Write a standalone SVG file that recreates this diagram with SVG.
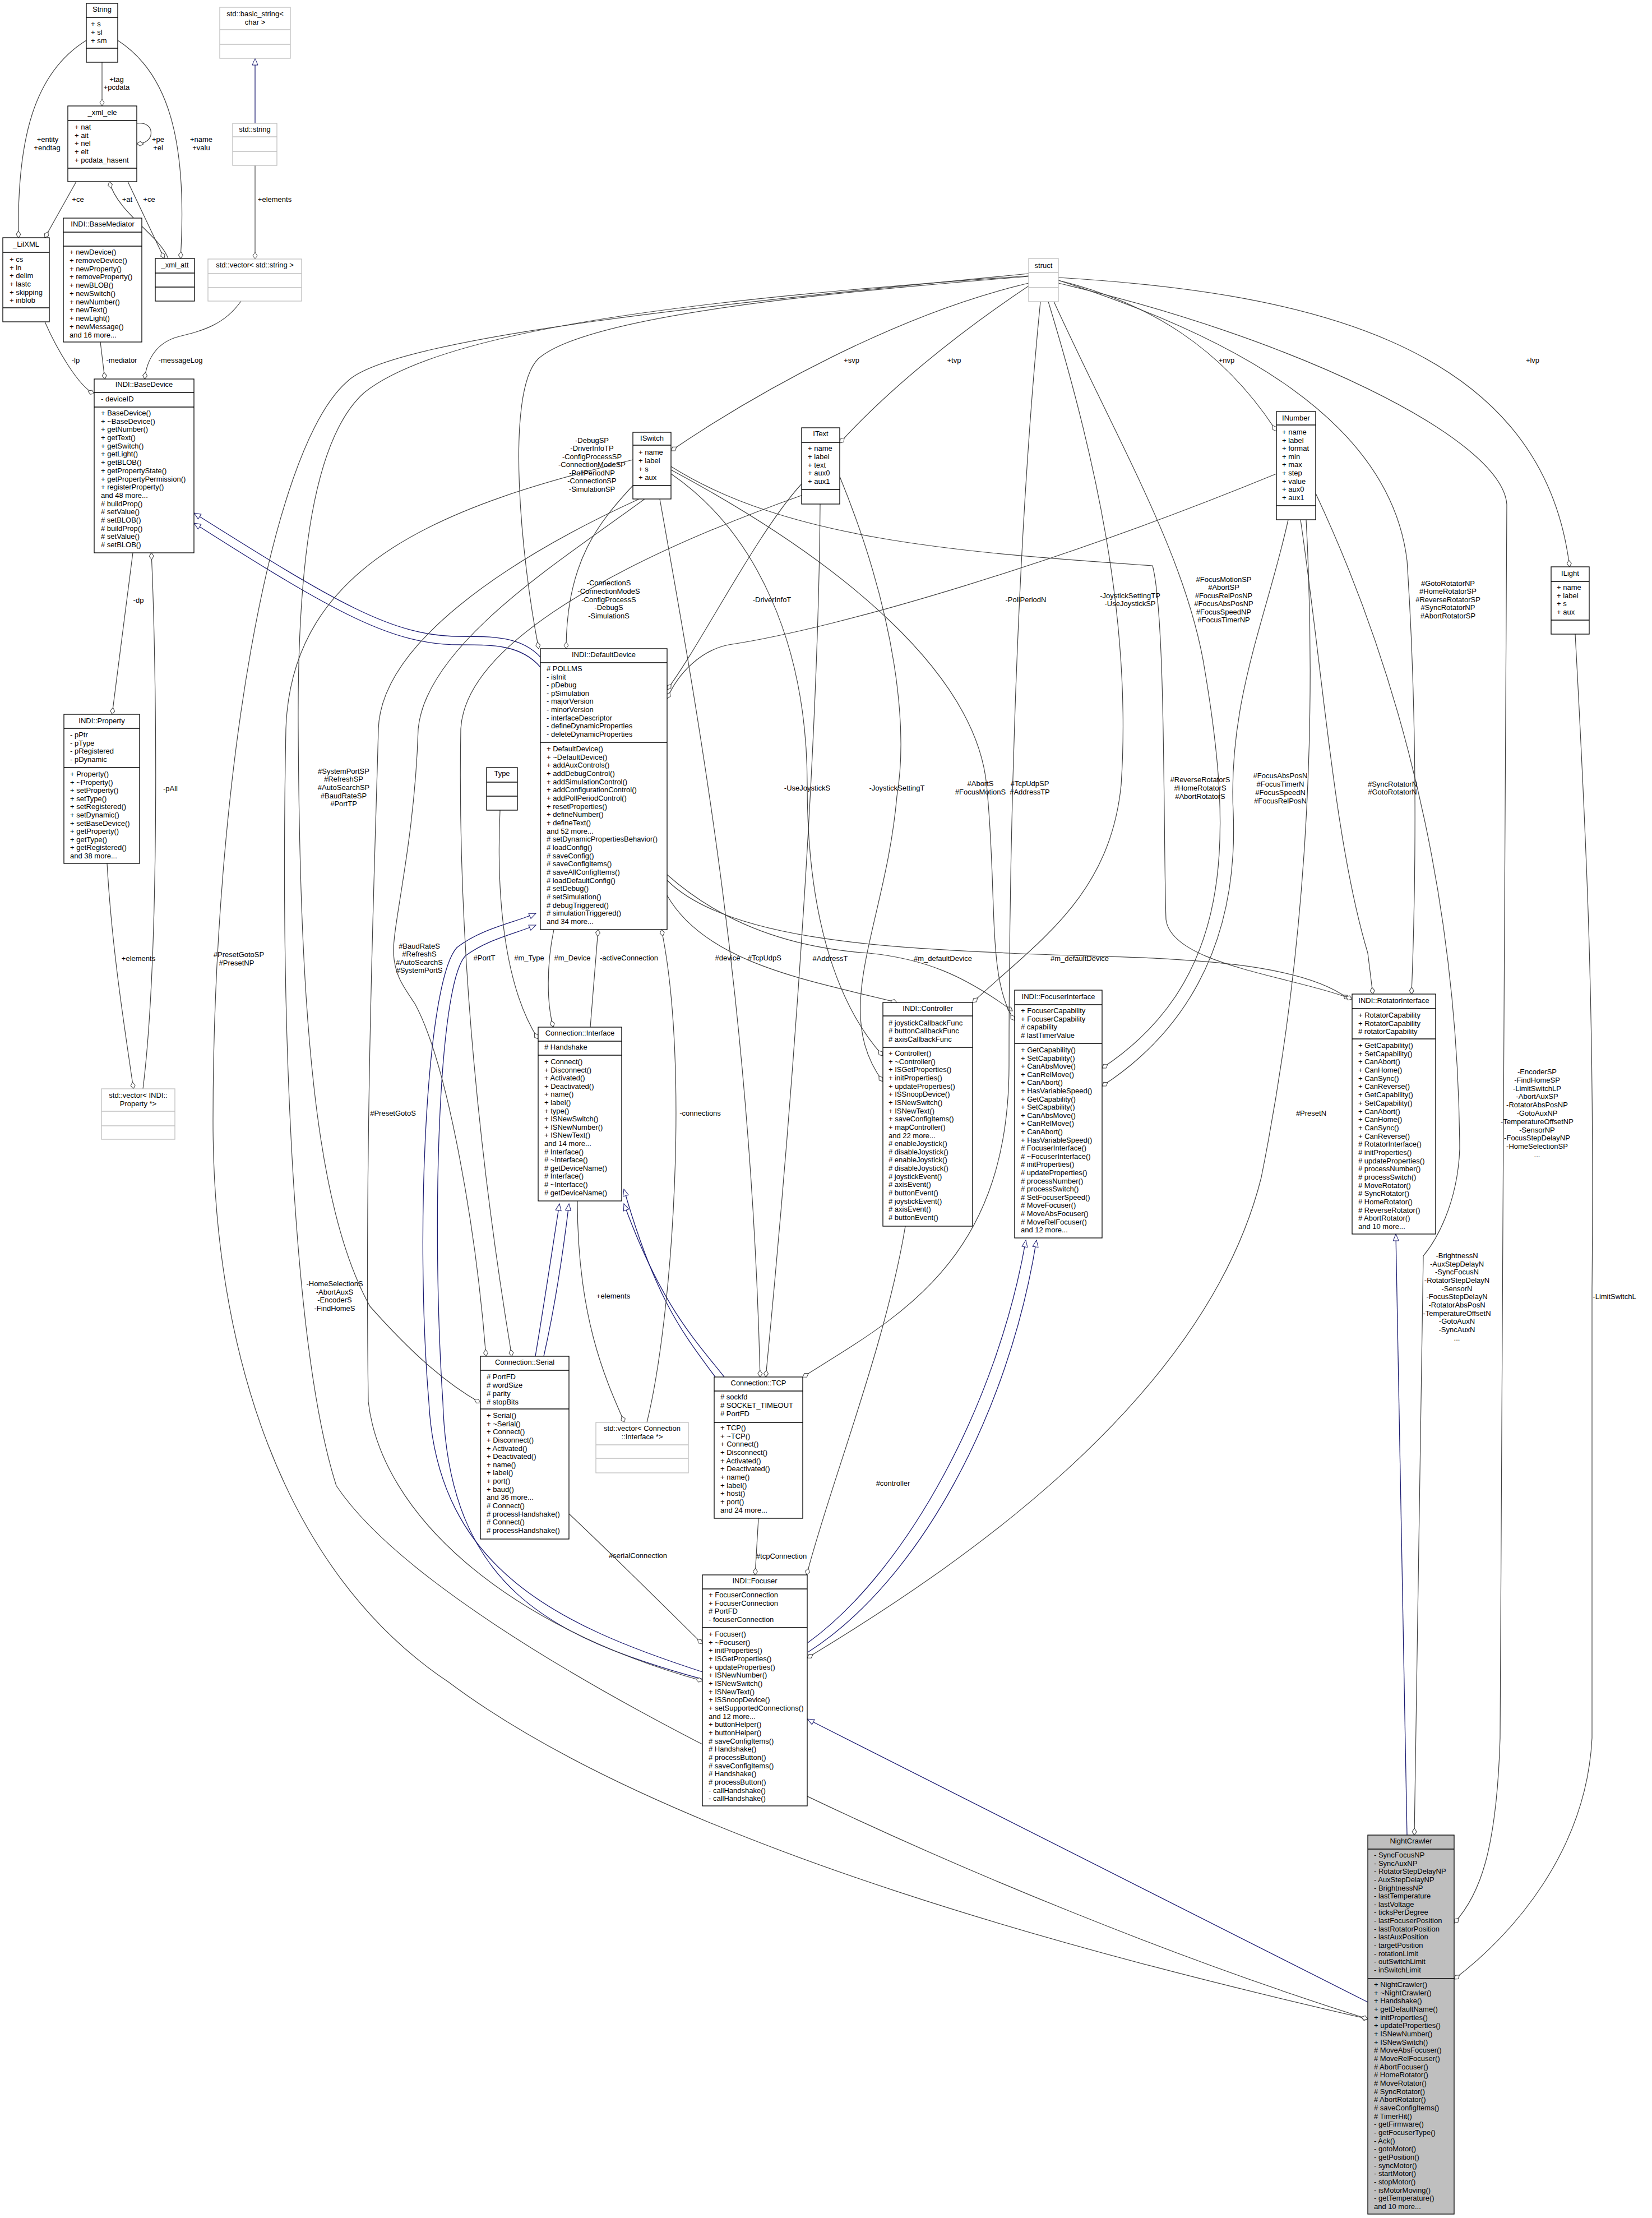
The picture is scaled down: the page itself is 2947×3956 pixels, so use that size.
<svg xmlns="http://www.w3.org/2000/svg" width="2947" height="3956" viewBox="0 0 2947 3956">
<style>
text{font-family:"Liberation Sans",Arial,sans-serif;font-size:13px;fill:#000}
.c{text-anchor:middle}
.b{fill:#fff;stroke:#000;stroke-width:1.3}
.g{fill:#fff;stroke:#bfbfbf;stroke-width:1.3}
.k{fill:#bfbfbf;stroke:#000;stroke-width:1.3}
.s{stroke:#000;stroke-width:1.3}
.sg{stroke:#bfbfbf;stroke-width:1.3}
.e{fill:none;stroke:#404040;stroke-width:1.2;marker-end:url(#d)}
.i{fill:none;stroke:#191970;stroke-width:1.3;marker-end:url(#t)}
</style>
<defs>
<marker id="d" markerWidth="14" markerHeight="10" refX="13" refY="5" orient="auto" markerUnits="userSpaceOnUse"><path d="M1,5 L7,1 L13,5 L7,9 Z" fill="#fff" stroke="#404040"/></marker>
<marker id="t" markerWidth="14" markerHeight="12" refX="13" refY="6" orient="auto" markerUnits="userSpaceOnUse"><path d="M1,1 L13,6 L1,11 Z" fill="#fff" stroke="#191970"/></marker>
</defs>
<rect width="2947" height="3956" fill="#fff"/>
<g id="connectors">
<path class="e" d="M182,111 L182,189"/>
<path class="e" d="M154,72 C60,130 30,250 33,424"/>
<path class="e" d="M210,72 C300,130 335,250 322,461"/>
<path class="e" d="M244,220 C278,215 278,258 244,256"/>
<path class="e" d="M136,324 L80,424"/>
<path class="e" d="M300,461 C285,420 210,380 195,324"/>
<path class="e" d="M228,324 L293,461"/>
<path class="i" d="M455,220 L455,104"/>
<path class="e" d="M455,295 L455,462"/>
<path class="e" d="M80,574 C100,620 140,690 168,702"/>
<path class="e" d="M179,610 L187,676"/>
<path class="e" d="M430,537 C400,580 360,590 320,600 C280,610 262,640 258,676"/>
<path class="e" d="M237,986 L200,1274"/>
<path class="e" d="M255,1942 C285,1700 280,1200 270,986"/>
<path class="e" d="M191,1540 C200,1700 225,1850 238,1942"/>
<path class="i" d="M964,1172 C930,1135 880,1135 820,1135 C700,1135 600,1075 346,915"/>
<path class="i" d="M964,1190 C930,1150 880,1150 820,1150 C700,1150 600,1095 346,933"/>
<path class="i" d="M1253,2982 C1000,2900 780,2800 765,2500 C740,2200 760,1750 815,1690 C860,1655 920,1645 956,1629"/>
<path class="i" d="M1253,2995 C980,2920 800,2830 790,2500 C770,2200 780,1760 830,1705 C870,1675 920,1665 956,1650"/>
<path class="i" d="M955,2419 C970,2330 985,2230 998,2147"/>
<path class="i" d="M970,2419 C990,2330 1005,2230 1015,2147"/>
<path class="i" d="M1276,2456 C1220,2380 1170,2320 1113,2121"/>
<path class="i" d="M1292,2456 C1240,2390 1180,2330 1113,2147"/>
<path class="i" d="M1441,2930 C1620,2800 1780,2500 1830,2212"/>
<path class="i" d="M1441,2947 C1640,2820 1800,2520 1849,2212"/>
<path class="i" d="M2510,3273 L2490,2201"/>
<path class="i" d="M2440,3571 L1440,3066"/>
<path class="e" d="M1190,1597 C1260,1720 1450,1750 1600,1788"/>
<path class="e" d="M1190,1560 C1280,1640 1400,1690 1550,1700 C1650,1710 1720,1740 1806,1803"/>
<path class="e" d="M1190,1570 C1300,1680 1600,1690 1800,1700 C2000,1710 2300,1700 2406,1782"/>
<path class="e" d="M988,1658 C975,1720 975,1790 987,1832"/>
<path class="e" d="M1053,1832 L1067,1658"/>
<path class="e" d="M892,1445 C885,1600 900,1760 960,1853"/>
<path class="e" d="M1154,2537 C1200,2350 1230,1900 1180,1658"/>
<path class="e" d="M1030,2142 C1030,2350 1080,2460 1114,2537"/>
<path class="e" d="M1015,2700 C1100,2780 1200,2880 1253,2932"/>
<path class="e" d="M1353,2708 L1347,2809"/>
<path class="e" d="M1615,2187 C1580,2400 1480,2650 1439,2809"/>
<path class="e" d="M1177,890 C1250,1300 1340,1800 1356,2456"/>
<path class="e" d="M1463,899 C1460,1300 1420,1900 1366,2456"/>
<path class="e" d="M1856,538 C1820,900 1800,1400 1800,1900 C1800,2250 1600,2350 1432,2456"/>
<path class="e" d="M2277,845 C1900,1000 1500,1120 1300,1150 C1250,1160 1210,1200 1190,1246"/>
<path class="e" d="M1430,863 C1350,950 1250,1150 1190,1230"/>
<path class="e" d="M1129,866 C1070,930 1010,1000 1010,1157"/>
<path class="e" d="M1835,493 C1500,520 1050,560 960,640 C900,700 930,1000 961,1157"/>
<path class="e" d="M1197,845 C1350,950 1440,1150 1440,1400 C1440,1650 1500,1800 1575,1883"/>
<path class="e" d="M1498,850 C1600,1100 1620,1300 1600,1420 C1580,1650 1480,1800 1575,1929"/>
<path class="e" d="M1870,538 C1950,800 2020,1100 2000,1400 C1980,1600 1850,1680 1735,1788"/>
<path class="e" d="M1197,838 C1500,1000 1740,1200 1760,1400 C1780,1600 1760,1750 1810,1820"/>
<path class="e" d="M1880,538 C2000,800 2120,1000 2150,1200 C2200,1500 2200,1750 1966,1905"/>
<path class="e" d="M2298,927 C2260,1100 2190,1250 2200,1450 C2210,1700 2100,1850 1966,1937"/>
<path class="e" d="M1197,832 C1400,960 1700,985 2056,1009 C2080,1100 2075,1500 2080,1640 C2090,1720 2300,1740 2412,1782"/>
<path class="e" d="M2320,927 C2360,1200 2380,1500 2440,1700 L2449,1773"/>
<path class="e" d="M1888,500 C2200,600 2480,750 2510,1000 C2530,1300 2525,1600 2518,1773"/>
<path class="e" d="M1888,505 C2300,600 2680,780 2688,900 L2676,3100 C2670,3300 2640,3380 2594,3430"/>
<path class="e" d="M2810,1131 C2830,1500 2845,1800 2840,2300 L2840,3100 C2830,3300 2700,3450 2594,3530"/>
<path class="e" d="M1888,495 C2300,520 2750,600 2800,1011"/>
<path class="e" d="M1888,500 C2050,540 2180,620 2277,769"/>
<path class="e" d="M1835,510 C1700,600 1580,700 1498,790"/>
<path class="e" d="M1835,505 C1600,560 1350,700 1197,804"/>
<path class="e" d="M2347,880 C2450,1100 2600,1500 2604,2049 C2600,2150 2560,2215 2539,2240 L2523,3273"/>
<path class="e" d="M2330,927 C2350,1300 2330,1700 2250,2100 C2150,2500 1700,2800 1440,2957"/>
<path class="e" d="M1835,488 C1300,540 700,600 620,680 C480,800 380,1400 380,2000 C380,2400 500,2800 800,3000 C1200,3300 2000,3500 2440,3601"/>
<path class="e" d="M1129,820 C800,900 520,1000 510,1300 C500,1800 520,2400 600,2650 C800,2950 1800,3400 2440,3601"/>
<path class="e" d="M1835,492 C1300,530 800,580 650,700 C560,780 530,1000 532,1300 C535,1800 560,2150 660,2330 C740,2420 800,2470 857,2502"/>
<path class="e" d="M1150,890 C1000,1000 760,1150 746,1300 C740,1500 700,1650 702,1700 C704,1740 720,1760 740,1790 C800,1900 850,2200 867,2419"/>
<path class="e" d="M1140,890 C900,1000 680,1150 675,1300 C670,1500 650,2000 657,2500 C680,2700 900,2900 1253,2998"/>
<path class="e" d="M1440,880 C1100,1000 830,1150 822,1300 C815,1700 860,2100 913,2419"/>
</g>
<g id="labels">
<text class="c" x="208" y="146">+tag</text><text class="c" x="208" y="160">+pcdata</text>
<text class="c" x="85" y="253">+entity</text><text class="c" x="84" y="268">+endtag</text>
<text class="c" x="282" y="253">+pe</text><text class="c" x="282" y="268">+el</text>
<text class="c" x="359" y="253">+name</text><text class="c" x="359" y="268">+valu</text>
<text class="c" x="139" y="360">+ce</text><text class="c" x="227" y="360">+at</text><text class="c" x="266" y="360">+ce</text><text class="c" x="490" y="360">+elements</text>
<text class="c" x="135" y="647">-lp</text><text class="c" x="217" y="647">-mediator</text><text class="c" x="322" y="647">-messageLog</text>
<text class="c" x="247" y="1075">-dp</text><text class="c" x="304" y="1411">-pAll</text><text class="c" x="247" y="1714">+elements</text>
<text class="c" x="426" y="1707">#PresetGotoSP</text><text class="c" x="422" y="1722">#PresetNP</text>
<text class="c" x="613" y="1380">#SystemPortSP</text><text class="c" x="613" y="1394">#RefreshSP</text><text class="c" x="613" y="1409">#AutoSearchSP</text><text class="c" x="613" y="1424">#BaudRateSP</text><text class="c" x="613" y="1438">#PortTP</text>
<text class="c" x="748" y="1692">#BaudRateS</text><text class="c" x="748" y="1706">#RefreshS</text><text class="c" x="748" y="1721">#AutoSearchS</text><text class="c" x="748" y="1735">#SystemPortS</text>
<text class="c" x="701" y="1990">#PresetGotoS</text>
<text class="c" x="597" y="2294">-HomeSelectionS</text><text class="c" x="597" y="2309">-AbortAuxS</text><text class="c" x="597" y="2323">-EncoderS</text><text class="c" x="597" y="2338">-FindHomeS</text>
<text class="c" x="864" y="1713">#PortT</text><text class="c" x="944" y="1713">#m_Type</text><text class="c" x="1021" y="1713">#m_Device</text><text class="c" x="1122" y="1713">-activeConnection</text>
<text class="c" x="1298" y="1713">#device</text><text class="c" x="1364" y="1713">#TcpUdpS</text><text class="c" x="1481" y="1714">#AddressT</text>
<text class="c" x="1682" y="1714">#m_defaultDevice</text><text class="c" x="1926" y="1714">#m_defaultDevice</text>
<text class="c" x="1249" y="1990">-connections</text><text class="c" x="1094" y="2316">+elements</text>
<text class="c" x="1138" y="2779">#serialConnection</text><text class="c" x="1394" y="2780">#tcpConnection</text><text class="c" x="1593" y="2650">#controller</text><text class="c" x="2339" y="1990">#PresetN</text>
<text class="c" x="1056" y="790">-DebugSP</text><text class="c" x="1056" y="804">-DriverInfoTP</text><text class="c" x="1056" y="819">-ConfigProcessSP</text><text class="c" x="1056" y="833">-ConnectionModeSP</text><text class="c" x="1056" y="848">-PollPeriodNP</text><text class="c" x="1056" y="862">-ConnectionSP</text><text class="c" x="1056" y="877">-SimulationSP</text>
<text class="c" x="1086" y="1044">-ConnectionS</text><text class="c" x="1086" y="1059">-ConnectionModeS</text><text class="c" x="1086" y="1074">-ConfigProcessS</text><text class="c" x="1086" y="1088">-DebugS</text><text class="c" x="1086" y="1103">-SimulationS</text>
<text class="c" x="1377" y="1074">-DriverInfoT</text><text class="c" x="1830" y="1074">-PollPeriodN</text>
<text class="c" x="1440" y="1410">-UseJoystickS</text><text class="c" x="1600" y="1410">-JoystickSettingT</text>
<text class="c" x="1749" y="1402">#AbortS</text><text class="c" x="1749" y="1417">#FocusMotionS</text>
<text class="c" x="1837" y="1402">#TcpUdpSP</text><text class="c" x="1837" y="1417">#AddressTP</text>
<text class="c" x="2016" y="1067">-JoystickSettingTP</text><text class="c" x="2016" y="1081">-UseJoystickSP</text>
<text class="c" x="2183" y="1038">#FocusMotionSP</text><text class="c" x="2183" y="1052">#AbortSP</text><text class="c" x="2183" y="1067">#FocusRelPosNP</text><text class="c" x="2183" y="1081">#FocusAbsPosNP</text><text class="c" x="2183" y="1096">#FocusSpeedNP</text><text class="c" x="2183" y="1110">#FocusTimerNP</text>
<text class="c" x="2583" y="1045">#GotoRotatorNP</text><text class="c" x="2583" y="1059">#HomeRotatorSP</text><text class="c" x="2583" y="1074">#ReverseRotatorSP</text><text class="c" x="2583" y="1088">#SyncRotatorNP</text><text class="c" x="2583" y="1103">#AbortRotatorSP</text>
<text class="c" x="1519" y="647">+svp</text><text class="c" x="1702" y="647">+tvp</text><text class="c" x="2188" y="647">+nvp</text><text class="c" x="2734" y="647">+lvp</text>
<text class="c" x="2141" y="1395">#ReverseRotatorS</text><text class="c" x="2141" y="1410">#HomeRotatorS</text><text class="c" x="2141" y="1425">#AbortRotatorS</text>
<text class="c" x="2284" y="1388">#FocusAbsPosN</text><text class="c" x="2284" y="1403">#FocusTimerN</text><text class="c" x="2284" y="1418">#FocusSpeedN</text><text class="c" x="2284" y="1433">#FocusRelPosN</text>
<text class="c" x="2484" y="1403">#SyncRotatorN</text><text class="c" x="2484" y="1417">#GotoRotatorN</text>
<text class="c" x="2742" y="1916">-EncoderSP</text><text class="c" x="2742" y="1931">-FindHomeSP</text><text class="c" x="2742" y="1946">-LimitSwitchLP</text><text class="c" x="2742" y="1960">-AbortAuxSP</text><text class="c" x="2742" y="1975">-RotatorAbsPosNP</text><text class="c" x="2742" y="1990">-GotoAuxNP</text><text class="c" x="2742" y="2005">-TemperatureOffsetNP</text><text class="c" x="2742" y="2020">-SensorNP</text><text class="c" x="2742" y="2034">-FocusStepDelayNP</text><text class="c" x="2742" y="2049">-HomeSelectionSP</text><text class="c" x="2742" y="2064">...</text>
<text class="c" x="2599" y="2244">-BrightnessN</text><text class="c" x="2599" y="2259">-AuxStepDelayN</text><text class="c" x="2599" y="2273">-SyncFocusN</text><text class="c" x="2599" y="2288">-RotatorStepDelayN</text><text class="c" x="2599" y="2303">-SensorN</text><text class="c" x="2599" y="2317">-FocusStepDelayN</text><text class="c" x="2599" y="2332">-RotatorAbsPosN</text><text class="c" x="2599" y="2347">-TemperatureOffsetN</text><text class="c" x="2599" y="2361">-GotoAuxN</text><text class="c" x="2599" y="2376">-SyncAuxN</text><text class="c" x="2599" y="2391">...</text>
<text class="c" x="2880" y="2317">-LimitSwitchL</text>
</g>
<g id="String"><rect class="b" x="154" y="6" width="56" height="105"/><text class="c" x="182" y="21">String</text><line class="s" x1="154" y1="31" x2="210" y2="31"/><text x="162" y="47">+ s</text><text x="162" y="62">+ sl</text><text x="162" y="77">+ sm</text><line class="s" x1="154" y1="86" x2="210" y2="86"/></g>
<g id="xml_ele"><rect class="b" x="121" y="189" width="123" height="135"/><text class="c" x="182.5" y="205">_xml_ele</text><line class="s" x1="121" y1="215" x2="244" y2="215"/><text x="133" y="231">+ nat</text><text x="133" y="246">+ ait</text><text x="133" y="260">+ nel</text><text x="133" y="275">+ eit</text><text x="133" y="290">+ pcdata_hasent</text><line class="s" x1="121" y1="300" x2="244" y2="300"/></g>
<g id="LilXML"><rect class="b" x="5" y="424" width="83" height="150"/><text class="c" x="46.5" y="440">_LilXML</text><line class="s" x1="5" y1="450" x2="88" y2="450"/><text x="17" y="467">+ cs</text><text x="17" y="482">+ ln</text><text x="17" y="496">+ delim</text><text x="17" y="511">+ lastc</text><text x="17" y="526">+ skipping</text><text x="17" y="540">+ inblob</text><line class="s" x1="5" y1="549" x2="88" y2="549"/></g>
<g id="BaseMediator"><rect class="b" x="113" y="389" width="140" height="221"/><text class="c" x="183" y="404">INDI::BaseMediator</text><line class="s" x1="113" y1="414" x2="253" y2="414"/><line class="s" x1="113" y1="439" x2="253" y2="439"/><text x="124" y="454">+ newDevice()</text><text x="124" y="469">+ removeDevice()</text><text x="124" y="484">+ newProperty()</text><text x="124" y="498">+ removeProperty()</text><text x="124" y="513">+ newBLOB()</text><text x="124" y="528">+ newSwitch()</text><text x="124" y="543">+ newNumber()</text><text x="124" y="557">+ newText()</text><text x="124" y="572">+ newLight()</text><text x="124" y="587">+ newMessage()</text><text x="124" y="602">and 16 more...</text></g>
<g id="xml_att"><rect class="b" x="277" y="461" width="70" height="76"/><text class="c" x="312" y="477">_xml_att</text><line class="s" x1="277" y1="487" x2="347" y2="487"/><line class="s" x1="277" y1="512" x2="347" y2="512"/></g>
<g id="basic_string"><rect class="g" x="392" y="13" width="126" height="91"/><text class="c" x="455" y="29">std::basic_string&lt;</text><text class="c" x="455" y="44">char &gt;</text><line class="sg" x1="392" y1="53" x2="518" y2="53"/><line class="sg" x1="392" y1="79" x2="518" y2="79"/></g>
<g id="std_string"><rect class="g" x="415" y="220" width="79" height="75"/><text class="c" x="454.5" y="235">std::string</text><line class="sg" x1="415" y1="244" x2="494" y2="244"/><line class="sg" x1="415" y1="270" x2="494" y2="270"/></g>
<g id="vector_string"><rect class="g" x="371" y="462" width="167" height="75"/><text class="c" x="454.5" y="477">std::vector&lt; std::string &gt;</text><line class="sg" x1="371" y1="488" x2="538" y2="488"/><line class="sg" x1="371" y1="513" x2="538" y2="513"/></g>
<g id="BaseDevice"><rect class="b" x="168" y="676" width="178" height="310"/><text class="c" x="257" y="690">INDI::BaseDevice</text><line class="s" x1="168" y1="700" x2="346" y2="700"/><text x="180" y="716">- deviceID</text><line class="s" x1="168" y1="726" x2="346" y2="726"/>
<text x="180" y="741">+ BaseDevice()</text><text x="180" y="756">+ ~BaseDevice()</text><text x="180" y="770">+ getNumber()</text><text x="180" y="785">+ getText()</text><text x="180" y="800">+ getSwitch()</text><text x="180" y="814">+ getLight()</text><text x="180" y="829">+ getBLOB()</text><text x="180" y="844">+ getPropertyState()</text><text x="180" y="859">+ getPropertyPermission()</text><text x="180" y="873">+ registerProperty()</text><text x="180" y="888">and 48 more...</text><text x="180" y="903"># buildProp()</text><text x="180" y="917"># setValue()</text><text x="180" y="932"># setBLOB()</text><text x="180" y="947"># buildProp()</text><text x="180" y="961"># setValue()</text><text x="180" y="976"># setBLOB()</text></g>
<g id="Property"><rect class="b" x="114" y="1274" width="135" height="266"/><text class="c" x="181.5" y="1290">INDI::Property</text><line class="s" x1="114" y1="1299" x2="249" y2="1299"/><text x="125" y="1315">- pPtr</text><text x="125" y="1330">- pType</text><text x="125" y="1344">- pRegistered</text><text x="125" y="1359">- pDynamic</text><line class="s" x1="114" y1="1369" x2="249" y2="1369"/>
<text x="125" y="1385">+ Property()</text><text x="125" y="1400">+ ~Property()</text><text x="125" y="1414">+ setProperty()</text><text x="125" y="1429">+ setType()</text><text x="125" y="1443">+ setRegistered()</text><text x="125" y="1458">+ setDynamic()</text><text x="125" y="1473">+ setBaseDevice()</text><text x="125" y="1487">+ getProperty()</text><text x="125" y="1502">+ getType()</text><text x="125" y="1516">+ getRegistered()</text><text x="125" y="1531">and 38 more...</text></g>
<g id="vector_Property"><rect class="g" x="181" y="1942" width="131" height="90"/><text class="c" x="246.5" y="1958">std::vector&lt; INDI::</text><text class="c" x="246.5" y="1973">Property *&gt;</text><line class="sg" x1="181" y1="1982" x2="312" y2="1982"/><line class="sg" x1="181" y1="2008" x2="312" y2="2008"/></g>
<g id="ISwitch"><rect class="b" x="1129" y="771" width="68" height="119"/><text class="c" x="1163" y="786">ISwitch</text><line class="s" x1="1129" y1="794" x2="1197" y2="794"/><text x="1139" y="811">+ name</text><text x="1139" y="826">+ label</text><text x="1139" y="841">+ s</text><text x="1139" y="856">+ aux</text><line class="s" x1="1129" y1="866" x2="1197" y2="866"/></g>
<g id="IText"><rect class="b" x="1430" y="763" width="68" height="136"/><text class="c" x="1464" y="778">IText</text><line class="s" x1="1430" y1="789" x2="1498" y2="789"/><text x="1441" y="804">+ name</text><text x="1441" y="819">+ label</text><text x="1441" y="834">+ text</text><text x="1441" y="848">+ aux0</text><text x="1441" y="863">+ aux1</text><line class="s" x1="1430" y1="873" x2="1498" y2="873"/></g>
<g id="struct"><rect class="g" x="1835" y="461" width="53" height="77"/><text class="c" x="1861.5" y="478">struct</text><line class="sg" x1="1835" y1="486" x2="1888" y2="486"/><line class="sg" x1="1835" y1="513" x2="1888" y2="513"/></g>
<g id="INumber"><rect class="b" x="2277" y="734" width="70" height="193"/><text class="c" x="2312" y="750">INumber</text><line class="s" x1="2277" y1="758" x2="2347" y2="758"/><text x="2287" y="775">+ name</text><text x="2287" y="790">+ label</text><text x="2287" y="804">+ format</text><text x="2287" y="819">+ min</text><text x="2287" y="833">+ max</text><text x="2287" y="848">+ step</text><text x="2287" y="863">+ value</text><text x="2287" y="877">+ aux0</text><text x="2287" y="892">+ aux1</text><line class="s" x1="2277" y1="902" x2="2347" y2="902"/></g>
<g id="ILight"><rect class="b" x="2767" y="1011" width="68" height="120"/><text class="c" x="2801" y="1027">ILight</text><line class="s" x1="2767" y1="1037" x2="2835" y2="1037"/><text x="2777" y="1052">+ name</text><text x="2777" y="1067">+ label</text><text x="2777" y="1081">+ s</text><text x="2777" y="1096">+ aux</text><line class="s" x1="2767" y1="1106" x2="2835" y2="1106"/></g>
<g id="DefaultDevice"><rect class="b" x="964" y="1157" width="226" height="501"/><text class="c" x="1077" y="1172">INDI::DefaultDevice</text><line class="s" x1="964" y1="1182" x2="1190" y2="1182"/>
<text x="975" y="1197"># POLLMS</text><text x="975" y="1212">- isInit</text><text x="975" y="1226">- pDebug</text><text x="975" y="1241">- pSimulation</text><text x="975" y="1255">- majorVersion</text><text x="975" y="1270">- minorVersion</text><text x="975" y="1285">- interfaceDescriptor</text><text x="975" y="1299">- defineDynamicProperties</text><text x="975" y="1314">- deleteDynamicProperties</text><line class="s" x1="964" y1="1324" x2="1190" y2="1324"/>
<text x="975" y="1340">+ DefaultDevice()</text><text x="975" y="1355">+ ~DefaultDevice()</text><text x="975" y="1369">+ addAuxControls()</text><text x="975" y="1384">+ addDebugControl()</text><text x="975" y="1399">+ addSimulationControl()</text><text x="975" y="1413">+ addConfigurationControl()</text><text x="975" y="1428">+ addPollPeriodControl()</text><text x="975" y="1443">+ resetProperties()</text><text x="975" y="1457">+ defineNumber()</text><text x="975" y="1472">+ defineText()</text><text x="975" y="1487">and 52 more...</text><text x="975" y="1501"># setDynamicPropertiesBehavior()</text><text x="975" y="1516"># loadConfig()</text><text x="975" y="1531"># saveConfig()</text><text x="975" y="1545"># saveConfigItems()</text><text x="975" y="1560"># saveAllConfigItems()</text><text x="975" y="1575"># loadDefaultConfig()</text><text x="975" y="1589"># setDebug()</text><text x="975" y="1604"># setSimulation()</text><text x="975" y="1619"># debugTriggered()</text><text x="975" y="1633"># simulationTriggered()</text><text x="975" y="1648">and 34 more...</text></g>
<g id="Type"><rect class="b" x="868" y="1369" width="55" height="76"/><text class="c" x="895.5" y="1384">Type</text><line class="s" x1="868" y1="1395" x2="923" y2="1395"/><line class="s" x1="868" y1="1420" x2="923" y2="1420"/></g>
<g id="ConnectionInterface"><rect class="b" x="960" y="1832" width="149" height="310"/><text class="c" x="1034.5" y="1847">Connection::Interface</text><line class="s" x1="960" y1="1857" x2="1109" y2="1857"/><text x="971" y="1872"># Handshake</text><line class="s" x1="960" y1="1882" x2="1109" y2="1882"/>
<text x="971" y="1898">+ Connect()</text><text x="971" y="1913">+ Disconnect()</text><text x="971" y="1927">+ Activated()</text><text x="971" y="1942">+ Deactivated()</text><text x="971" y="1956">+ name()</text><text x="971" y="1971">+ label()</text><text x="971" y="1986">+ type()</text><text x="971" y="2000">+ ISNewSwitch()</text><text x="971" y="2015">+ ISNewNumber()</text><text x="971" y="2029">+ ISNewText()</text><text x="971" y="2044">and 14 more...</text><text x="971" y="2059"># Interface()</text><text x="971" y="2073"># ~Interface()</text><text x="971" y="2088"># getDeviceName()</text><text x="971" y="2102"># Interface()</text><text x="971" y="2117"># ~Interface()</text><text x="971" y="2132"># getDeviceName()</text></g>
<g id="Serial"><rect class="b" x="857" y="2419" width="158" height="326"/><text class="c" x="936" y="2434">Connection::Serial</text><line class="s" x1="857" y1="2444" x2="1015" y2="2444"/><text x="868" y="2460"># PortFD</text><text x="868" y="2475"># wordSize</text><text x="868" y="2490"># parity</text><text x="868" y="2505"># stopBits</text><line class="s" x1="857" y1="2513" x2="1015" y2="2513"/>
<text x="868" y="2529">+ Serial()</text><text x="868" y="2544">+ ~Serial()</text><text x="868" y="2558">+ Connect()</text><text x="868" y="2573">+ Disconnect()</text><text x="868" y="2588">+ Activated()</text><text x="868" y="2602">+ Deactivated()</text><text x="868" y="2617">+ name()</text><text x="868" y="2631">+ label()</text><text x="868" y="2646">+ port()</text><text x="868" y="2661">+ baud()</text><text x="868" y="2675">and 36 more...</text><text x="868" y="2690"># Connect()</text><text x="868" y="2705"># processHandshake()</text><text x="868" y="2719"># Connect()</text><text x="868" y="2734"># processHandshake()</text></g>
<g id="vector_Interface"><rect class="g" x="1063" y="2537" width="165" height="90"/><text class="c" x="1145.5" y="2552">std::vector&lt; Connection</text><text class="c" x="1145.5" y="2567">::Interface *&gt;</text><line class="sg" x1="1063" y1="2577" x2="1228" y2="2577"/><line class="sg" x1="1063" y1="2601" x2="1228" y2="2601"/></g>
<g id="TCP"><rect class="b" x="1274" y="2456" width="158" height="252"/><text class="c" x="1353" y="2471">Connection::TCP</text><line class="s" x1="1274" y1="2481" x2="1432" y2="2481"/><text x="1285" y="2496"># sockfd</text><text x="1285" y="2511"># SOCKET_TIMEOUT</text><text x="1285" y="2526"># PortFD</text><line class="s" x1="1274" y1="2537" x2="1432" y2="2537"/>
<text x="1285" y="2551">+ TCP()</text><text x="1285" y="2566">+ ~TCP()</text><text x="1285" y="2580">+ Connect()</text><text x="1285" y="2595">+ Disconnect()</text><text x="1285" y="2610">+ Activated()</text><text x="1285" y="2624">+ Deactivated()</text><text x="1285" y="2639">+ name()</text><text x="1285" y="2654">+ label()</text><text x="1285" y="2668">+ host()</text><text x="1285" y="2683">+ port()</text><text x="1285" y="2698">and 24 more...</text></g>
<g id="Controller"><rect class="b" x="1575" y="1788" width="160" height="399"/><text class="c" x="1655" y="1803">INDI::Controller</text><line class="s" x1="1575" y1="1812" x2="1735" y2="1812"/><text x="1585" y="1829"># joystickCallbackFunc</text><text x="1585" y="1843"># buttonCallbackFunc</text><text x="1585" y="1858"># axisCallbackFunc</text><line class="s" x1="1575" y1="1868" x2="1735" y2="1868"/>
<text x="1585" y="1883">+ Controller()</text><text x="1585" y="1898">+ ~Controller()</text><text x="1585" y="1912">+ ISGetProperties()</text><text x="1585" y="1927">+ initProperties()</text><text x="1585" y="1942">+ updateProperties()</text><text x="1585" y="1956">+ ISSnoopDevice()</text><text x="1585" y="1971">+ ISNewSwitch()</text><text x="1585" y="1986">+ ISNewText()</text><text x="1585" y="2000">+ saveConfigItems()</text><text x="1585" y="2015">+ mapController()</text><text x="1585" y="2030">and 22 more...</text><text x="1585" y="2044"># enableJoystick()</text><text x="1585" y="2059"># disableJoystick()</text><text x="1585" y="2073"># enableJoystick()</text><text x="1585" y="2088"># disableJoystick()</text><text x="1585" y="2103"># joystickEvent()</text><text x="1585" y="2117"># axisEvent()</text><text x="1585" y="2132"># buttonEvent()</text><text x="1585" y="2147"># joystickEvent()</text><text x="1585" y="2161"># axisEvent()</text><text x="1585" y="2176"># buttonEvent()</text></g>
<g id="FocuserInterface"><rect class="b" x="1810" y="1766" width="156" height="442"/><text class="c" x="1888" y="1782">INDI::FocuserInterface</text><line class="s" x1="1810" y1="1792" x2="1966" y2="1792"/><text x="1821" y="1807">+ FocuserCapability</text><text x="1821" y="1822">+ FocuserCapability</text><text x="1821" y="1836"># capability</text><text x="1821" y="1851"># lastTimerValue</text><line class="s" x1="1810" y1="1861" x2="1966" y2="1861"/>
<text x="1821" y="1877">+ GetCapability()</text><text x="1821" y="1892">+ SetCapability()</text><text x="1821" y="1906">+ CanAbsMove()</text><text x="1821" y="1921">+ CanRelMove()</text><text x="1821" y="1935">+ CanAbort()</text><text x="1821" y="1950">+ HasVariableSpeed()</text><text x="1821" y="1965">+ GetCapability()</text><text x="1821" y="1979">+ SetCapability()</text><text x="1821" y="1994">+ CanAbsMove()</text><text x="1821" y="2008">+ CanRelMove()</text><text x="1821" y="2023">+ CanAbort()</text><text x="1821" y="2038">+ HasVariableSpeed()</text><text x="1821" y="2052"># FocuserInterface()</text><text x="1821" y="2067"># ~FocuserInterface()</text><text x="1821" y="2081"># initProperties()</text><text x="1821" y="2096"># updateProperties()</text><text x="1821" y="2111"># processNumber()</text><text x="1821" y="2125"># processSwitch()</text><text x="1821" y="2140"># SetFocuserSpeed()</text><text x="1821" y="2154"># MoveFocuser()</text><text x="1821" y="2169"># MoveAbsFocuser()</text><text x="1821" y="2184"># MoveRelFocuser()</text><text x="1821" y="2198">and 12 more...</text></g>
<g id="RotatorInterface"><rect class="b" x="2412" y="1773" width="149" height="428"/><text class="c" x="2486.5" y="1789">INDI::RotatorInterface</text><line class="s" x1="2412" y1="1799" x2="2561" y2="1799"/><text x="2423" y="1815">+ RotatorCapability</text><text x="2423" y="1830">+ RotatorCapability</text><text x="2423" y="1844"># rotatorCapability</text><line class="s" x1="2412" y1="1853" x2="2561" y2="1853"/>
<text x="2423" y="1869">+ GetCapability()</text><text x="2423" y="1884">+ SetCapability()</text><text x="2423" y="1898">+ CanAbort()</text><text x="2423" y="1913">+ CanHome()</text><text x="2423" y="1928">+ CanSync()</text><text x="2423" y="1942">+ CanReverse()</text><text x="2423" y="1957">+ GetCapability()</text><text x="2423" y="1972">+ SetCapability()</text><text x="2423" y="1987">+ CanAbort()</text><text x="2423" y="2001">+ CanHome()</text><text x="2423" y="2016">+ CanSync()</text><text x="2423" y="2031">+ CanReverse()</text><text x="2423" y="2045"># RotatorInterface()</text><text x="2423" y="2060"># initProperties()</text><text x="2423" y="2075"># updateProperties()</text><text x="2423" y="2089"># processNumber()</text><text x="2423" y="2104"># processSwitch()</text><text x="2423" y="2119"># MoveRotator()</text><text x="2423" y="2133"># SyncRotator()</text><text x="2423" y="2148"># HomeRotator()</text><text x="2423" y="2163"># ReverseRotator()</text><text x="2423" y="2177"># AbortRotator()</text><text x="2423" y="2192">and 10 more...</text></g>
<g id="Focuser"><rect class="b" x="1253" y="2809" width="187" height="412"/><text class="c" x="1346.5" y="2824">INDI::Focuser</text><line class="s" x1="1253" y1="2834" x2="1440" y2="2834"/><text x="1264" y="2849">+ FocuserConnection</text><text x="1264" y="2864">+ FocuserConnection</text><text x="1264" y="2878"># PortFD</text><text x="1264" y="2893">- focuserConnection</text><line class="s" x1="1253" y1="2903" x2="1440" y2="2903"/>
<text x="1264" y="2919">+ Focuser()</text><text x="1264" y="2934">+ ~Focuser()</text><text x="1264" y="2948">+ initProperties()</text><text x="1264" y="2963">+ ISGetProperties()</text><text x="1264" y="2978">+ updateProperties()</text><text x="1264" y="2992">+ ISNewNumber()</text><text x="1264" y="3007">+ ISNewSwitch()</text><text x="1264" y="3022">+ ISNewText()</text><text x="1264" y="3036">+ ISSnoopDevice()</text><text x="1264" y="3051">+ setSupportedConnections()</text><text x="1264" y="3066">and 12 more...</text><text x="1264" y="3080">+ buttonHelper()</text><text x="1264" y="3095">+ buttonHelper()</text><text x="1264" y="3110"># saveConfigItems()</text><text x="1264" y="3124"># Handshake()</text><text x="1264" y="3139"># processButton()</text><text x="1264" y="3154"># saveConfigItems()</text><text x="1264" y="3168"># Handshake()</text><text x="1264" y="3183"># processButton()</text><text x="1264" y="3198">- callHandshake()</text><text x="1264" y="3212">- callHandshake()</text></g>
<g id="NightCrawler"><rect class="k" x="2440" y="3273" width="154" height="676"/><text class="c" x="2517" y="3288">NightCrawler</text><line class="s" x1="2440" y1="3298" x2="2594" y2="3298"/>
<text x="2451" y="3313">- SyncFocusNP</text><text x="2451" y="3328">- SyncAuxNP</text><text x="2451" y="3342">- RotatorStepDelayNP</text><text x="2451" y="3357">- AuxStepDelayNP</text><text x="2451" y="3372">- BrightnessNP</text><text x="2451" y="3386">- lastTemperature</text><text x="2451" y="3401">- lastVoltage</text><text x="2451" y="3415">- ticksPerDegree</text><text x="2451" y="3430">- lastFocuserPosition</text><text x="2451" y="3445">- lastRotatorPosition</text><text x="2451" y="3459">- lastAuxPosition</text><text x="2451" y="3474">- targetPosition</text><text x="2451" y="3489">- rotationLimit</text><text x="2451" y="3503">- outSwitchLimit</text><text x="2451" y="3518">- inSwitchLimit</text><line class="s" x1="2440" y1="3529" x2="2594" y2="3529"/>
<text x="2451" y="3544">+ NightCrawler()</text><text x="2451" y="3559">+ ~NightCrawler()</text><text x="2451" y="3573">+ Handshake()</text><text x="2451" y="3588">+ getDefaultName()</text><text x="2451" y="3603">+ initProperties()</text><text x="2451" y="3617">+ updateProperties()</text><text x="2451" y="3632">+ ISNewNumber()</text><text x="2451" y="3647">+ ISNewSwitch()</text><text x="2451" y="3661"># MoveAbsFocuser()</text><text x="2451" y="3676"># MoveRelFocuser()</text><text x="2451" y="3691"># AbortFocuser()</text><text x="2451" y="3705"># HomeRotator()</text><text x="2451" y="3720"># MoveRotator()</text><text x="2451" y="3735"># SyncRotator()</text><text x="2451" y="3749"># AbortRotator()</text><text x="2451" y="3764"># saveConfigItems()</text><text x="2451" y="3779"># TimerHit()</text><text x="2451" y="3793">- getFirmware()</text><text x="2451" y="3808">- getFocuserType()</text><text x="2451" y="3823">- Ack()</text><text x="2451" y="3837">- gotoMotor()</text><text x="2451" y="3852">- getPosition()</text><text x="2451" y="3867">- syncMotor()</text><text x="2451" y="3881">- startMotor()</text><text x="2451" y="3896">- stopMotor()</text><text x="2451" y="3911">- isMotorMoving()</text><text x="2451" y="3925">- getTemperature()</text><text x="2451" y="3940">and 10 more...</text></g>
</svg>
